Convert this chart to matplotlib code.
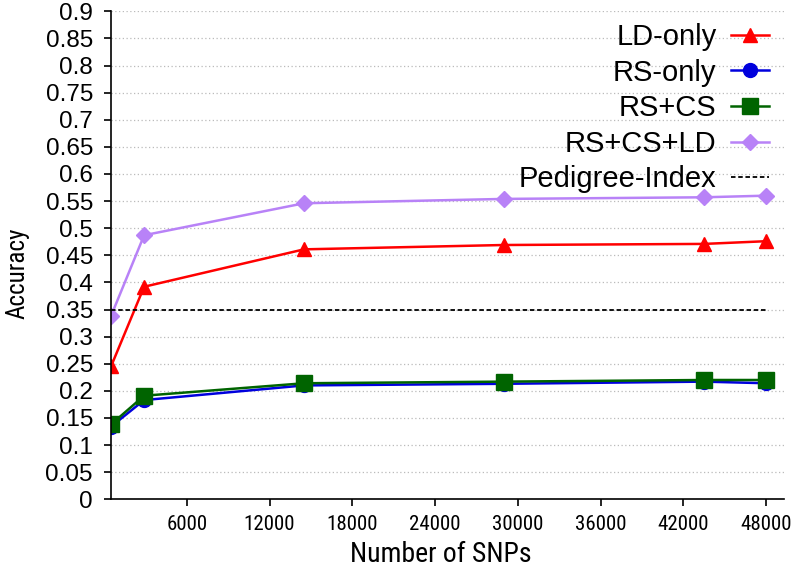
import matplotlib
matplotlib.use('Agg')
import matplotlib.pyplot as plt
from matplotlib import font_manager
from matplotlib.font_manager import FontProperties

plt.rcParams['font.family'] = ['Liberation Sans', 'DejaVu Sans']

# data
snps = [500, 2900, 14500, 29000, 43500, 48000]
ld_only = [0.245, 0.392, 0.461, 0.469, 0.471, 0.476]
rs_only = [0.134, 0.183, 0.210, 0.213, 0.217, 0.214]
rs_cs = [0.138, 0.191, 0.214, 0.217, 0.220, 0.220]
rs_cs_ld = [0.338, 0.487, 0.546, 0.554, 0.557, 0.560]
pedigree = 0.35

yticks = [i * 0.05 for i in range(19)]
ylabels = ['0', '0.05', '0.1', '0.15', '0.2', '0.25', '0.3', '0.35', '0.4', '0.45',
           '0.5', '0.55', '0.6', '0.65', '0.7', '0.75', '0.8', '0.85', '0.9']
xticks = [6000, 12000, 18000, 24000, 30000, 36000, 42000, 48000]


# a narrow sans for the x axis texts, if one is installed
def narrow_font(size):
    files = [f.fname for f in font_manager.fontManager.ttflist]
    for key in ['LiberationSansNarrow-Regular', 'RobotoCondensed-Regular',
                'OpenSans_Condensed-Regular', 'OpenSansCondensed', 'DejaVuSansCondensed.']:
        for fn in files:
            if key in fn:
                return FontProperties(fname=fn, size=size)
    return FontProperties(family='Liberation Sans', size=size)


fig = plt.figure(figsize=(7.97, 5.75), dpi=100)
ax = fig.add_axes([0.1393, 0.1317, 0.8444, 0.8486])

ax.plot(snps, ld_only, color='#ff0000', lw=1.8, marker='^', ms=10, label='LD-only')
ax.plot(snps, rs_only, color='#0000dd', lw=1.8, marker='o', ms=10, label='RS-only')
ax.plot(snps, rs_cs, color='#006400', lw=1.8, marker='s', ms=11, label='RS+CS')
ax.plot(snps, rs_cs_ld, color='#b882f7', lw=1.8, marker='D', ms=8, label='RS+CS+LD')
ax.plot([snps[0], snps[-1]], [pedigree, pedigree], color='black', lw=1.3,
        ls=(0, (2.5, 1.5)), label='Pedigree-Index')

ax.set_xlim(500, 49300)
ax.set_ylim(0, 0.9)
ax.set_yticks(yticks)
ax.set_yticklabels(ylabels, fontsize=17.5)
ax.set_xticks(xticks)
ax.set_xticklabels([str(t) for t in xticks], fontproperties=narrow_font(15))

ax.yaxis.grid(True, color='#bbbbbb', ls=(0, (1, 2)), lw=0.9)
ax.set_axisbelow(True)
for s in ['top', 'right']:
    ax.spines[s].set_visible(False)
for s in ['left', 'bottom']:
    ax.spines[s].set_linewidth(1.2)
ax.tick_params(direction='out', length=5, width=1.2)
ax.tick_params(axis='y', pad=8)
ax.tick_params(axis='x', pad=6)

ax.set_ylabel('Accuracy', fontproperties=narrow_font(18))
ax.yaxis.set_label_coords(-0.139, 0.464)
ax.set_xlabel('Number of SNPs', fontproperties=narrow_font(20))
ax.xaxis.set_label_coords(0.49, -0.114)
ax.xaxis.label.set_va('center')
ax.yaxis.label.set_va('center')

leg = ax.legend(loc='upper right', frameon=False, markerfirst=False, fontsize=21,
                handlelength=1.3, labelspacing=0.26, handletextpad=0.5,
                borderaxespad=0.0, bbox_to_anchor=(0.995, 1.0))
for t in leg.get_texts():
    t.set_ha('right')

fig.savefig('out.png', dpi=100)
